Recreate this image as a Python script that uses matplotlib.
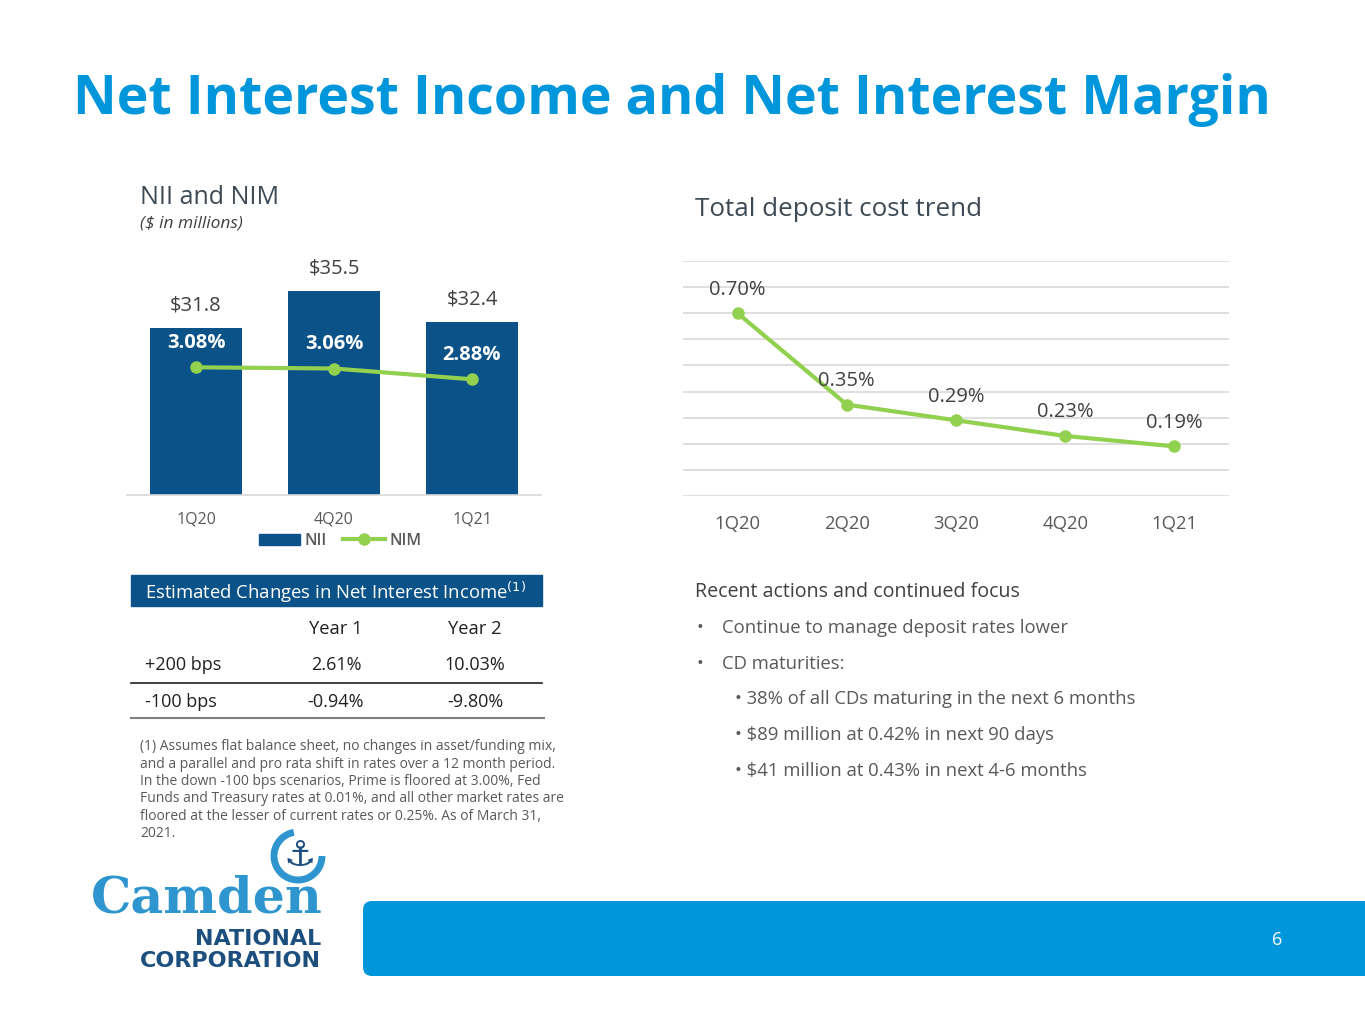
import matplotlib
matplotlib.use("Agg")
import matplotlib.pyplot as plt
from matplotlib.patches import FancyBboxPatch, Rectangle, Arc
from matplotlib.lines import Line2D

# ---------------- data ----------------
nii_quarters = ["1Q20", "4Q20", "1Q21"]
nii_values = [31.8, 35.5, 32.4]
nim_values = [3.08, 3.06, 2.88]

dep_quarters = ["1Q20", "2Q20", "3Q20", "4Q20", "1Q21"]
dep_cost = [0.70, 0.35, 0.29, 0.23, 0.19]

table_cols = ["Year 1", "Year 2"]
table_rows = ["+200 bps", "-100 bps"]
table_vals = [["2.61%", "10.03%"], ["-0.94%", "-9.80%"]]

footnote_lines = [
    "(1) Assumes flat balance sheet, no changes in asset/funding mix,",
    "and a parallel and pro rata shift in rates over a 12 month period.",
    "In the down -100 bps scenarios, Prime is floored at 3.00%, Fed",
    "Funds and Treasury rates at 0.01%, and all other market rates are",
    "floored at the lesser of current rates or 0.25%. As of March 31,",
    "2021.",
]
bullets = ["Continue to manage deposit rates lower", "CD maturities:"]
sub_bullets = [
    "38% of all CDs maturing in the next 6 months",
    "$89 million at 0.42% in next 90 days",
    "$41 million at 0.43% in next 4-6 months",
]

# ---------------- style ----------------
W, H = 1365, 1024
FONT = "Open Sans"
plt.rcParams["font.family"] = [FONT, "DejaVu Sans"]
BLUE_T = "#0096db"
NAVY = "#0b5288"
GREEN = "#92d050"
DARK = "#404040"
GRAY = "#595959"
LGRAY = "#d9d9d9"
LOGO_BLUE = "#2e95cf"
LOGO_NAVY = "#1c4f7e"

fig = plt.figure(figsize=(W / 100, H / 100), dpi=100)

# overlay axes in pixel coordinates for decorative shapes
ov = fig.add_axes([0, 0, 1, 1], zorder=0)
ov.set_xlim(0, W)
ov.set_ylim(H, 0)
ov.axis("off")


def rect(x0, y0, x1, y1):
    return [x0 / W, 1 - y1 / H, (x1 - x0) / W, (y1 - y0) / H]


def T(x, y, s, **kw):
    kw.setdefault("va", "center")
    kw.setdefault("ha", "left")
    return fig.text(x / W, 1 - y / H, s, **kw)


# title
T(73, 100, "Net Interest Income and Net Interest Margin", fontsize=38.7,
  fontweight="bold", color=BLUE_T)

# ---------------- left chart ----------------
T(140, 198, "NII and NIM", fontsize=18, color="#3d4a55")
T(140, 224, "($ in millions)", fontsize=12.5, style="italic", color=DARK)

ax = fig.add_axes(rect(127, 245, 541, 495))
x = list(range(len(nii_quarters)))
ax.bar(x, nii_values, width=0.667, color=NAVY, zorder=2)
ax.set_xlim(-0.5, 2.5)
ax.set_ylim(15.3, 40)
for s in ["top", "left", "right"]:
    ax.spines[s].set_visible(False)
ax.spines["bottom"].set_color(LGRAY)
ax.spines["bottom"].set_linewidth(1.2)
ax.set_yticks([])
ax.set_xticks(x)
ax.set_xticklabels(nii_quarters, fontsize=11.5, color=GRAY)
ax.tick_params(axis="x", length=0, pad=12)
for xi, v in zip(x, nii_values):
    ax.annotate(f"${v:.1f}", (xi, v), xytext=(0, 16), textcoords="offset points",
                ha="center", va="center", fontsize=14.5, color=DARK)

ax2 = ax.twinx()
ax2.set_ylim(0.95, 5.12)
ax2.plot(x, nim_values, color=GREEN, lw=3, marker="o", ms=8, zorder=3)
ax2.axis("off")
for xi, v in zip(x, nim_values):
    ax2.annotate(f"{v:.2f}%", (xi, v), xytext=(0, 17.5), textcoords="offset points",
                 ha="center", va="center", fontsize=14.5, color="white", fontweight="bold")

handles = [Rectangle((0, 0), 1, 1, color=NAVY),
           Line2D([0], [0], color=GREEN, lw=3, marker="o", ms=8)]
leg = fig.legend(handles, ["NII", "NIM"], loc="center", ncol=2,
                 bbox_to_anchor=(340 / W, 1 - 541 / H), frameon=False,
                 handlelength=2.6, handletextpad=0.3, columnspacing=1.0,
                 prop={"weight": "semibold", "size": 11.5})
for t in leg.get_texts():
    t.set_color(GRAY)

# ---------------- right chart ----------------
T(695, 209, "Total deposit cost trend", fontsize=18.7, color="#3d4a55")
axr = fig.add_axes(rect(683, 261, 1229, 496))
xr = list(range(len(dep_quarters)))
axr.plot(xr, dep_cost, color=GREEN, lw=3, marker="o", ms=8, zorder=3)
axr.set_xlim(-0.5, 4.5)
axr.set_ylim(0, 0.9)
axr.set_yticks([i / 10 for i in range(10)])
axr.yaxis.grid(True, color=LGRAY, lw=1.2)
axr.set_axisbelow(True)
axr.tick_params(axis="y", length=0, labelleft=False)
for s in axr.spines.values():
    s.set_visible(False)
axr.set_xticks(xr)
axr.set_xticklabels(dep_quarters, fontsize=13.3, color=GRAY)
axr.tick_params(axis="x", length=0, pad=14)
for xi, v in zip(xr, dep_cost):
    axr.annotate(f"{v:.2f}%", (xi, v), xytext=(0, 17), textcoords="offset points",
                 ha="center", va="center", fontsize=14.5, color=DARK)

# ---------------- table ----------------
ov.add_patch(Rectangle((131, 575), 542 - 131, 31, color=NAVY))
T(145, 592, "Estimated Changes in Net Interest Income$^{(1)}$", fontsize=13.3, color="white")
col_x = [336, 475]
for cx, c in zip(col_x, table_cols):
    T(cx, 629, c, fontsize=13.2, color="#202020", ha="center")
row_y = [665, 702]
for ry, rname, vals in zip(row_y, table_rows, table_vals):
    T(145, ry, rname, fontsize=13, color="#202020")
    for cx, v in zip(col_x, vals):
        T(cx, ry, v, fontsize=13, color="#202020", ha="center")
ov.plot([131, 542], [683, 683], color="#202020", lw=1.2)
ov.plot([131, 544], [718, 718], color="#808080", lw=1.5)

for i, line in enumerate(footnote_lines):
    T(140, 747 + i * 17.3, line, fontsize=10, color=GRAY)

# ---------------- right text ----------------
T(695, 592, "Recent actions and continued focus", fontsize=14.1, color=DARK)
for i, b in enumerate(bullets):
    y = 628 + i * 36
    T(696, y, "•", fontsize=13, color=GRAY)
    T(722, y, b, fontsize=13.3, color=GRAY)
for i, b in enumerate(sub_bullets):
    y = 699 + i * 36
    T(735, y, "• " + b, fontsize=13.3, color=GRAY)

# ---------------- footer ----------------
ov.add_patch(FancyBboxPatch((363, 901), 1100, 75,
                            boxstyle="round,pad=0,rounding_size=9",
                            color="#0096db", lw=0))
T(1277, 940, "6", fontsize=13, color="white", ha="center")

# ---------------- logo ----------------
T(91, 899, "Camden", fontsize=36.5, fontweight="bold", color=LOGO_BLUE,
  family=["DejaVu Serif"])
T(321, 939, "NATIONAL", fontsize=16, fontweight="bold", color=LOGO_NAVY, ha="right",
  family=["DejaVu Sans"])
T(321, 961, "CORPORATION", fontsize=16, fontweight="bold", color=LOGO_NAVY, ha="right",
  family=["DejaVu Sans"])
ov.add_patch(Arc((298, 856), 48, 48, theta1=0, theta2=260, color=LOGO_BLUE, lw=5))
T(300, 856, "⚓", fontsize=26, color=LOGO_NAVY, ha="center", family=["DejaVu Sans"])

fig.savefig("out.png", dpi=100)
